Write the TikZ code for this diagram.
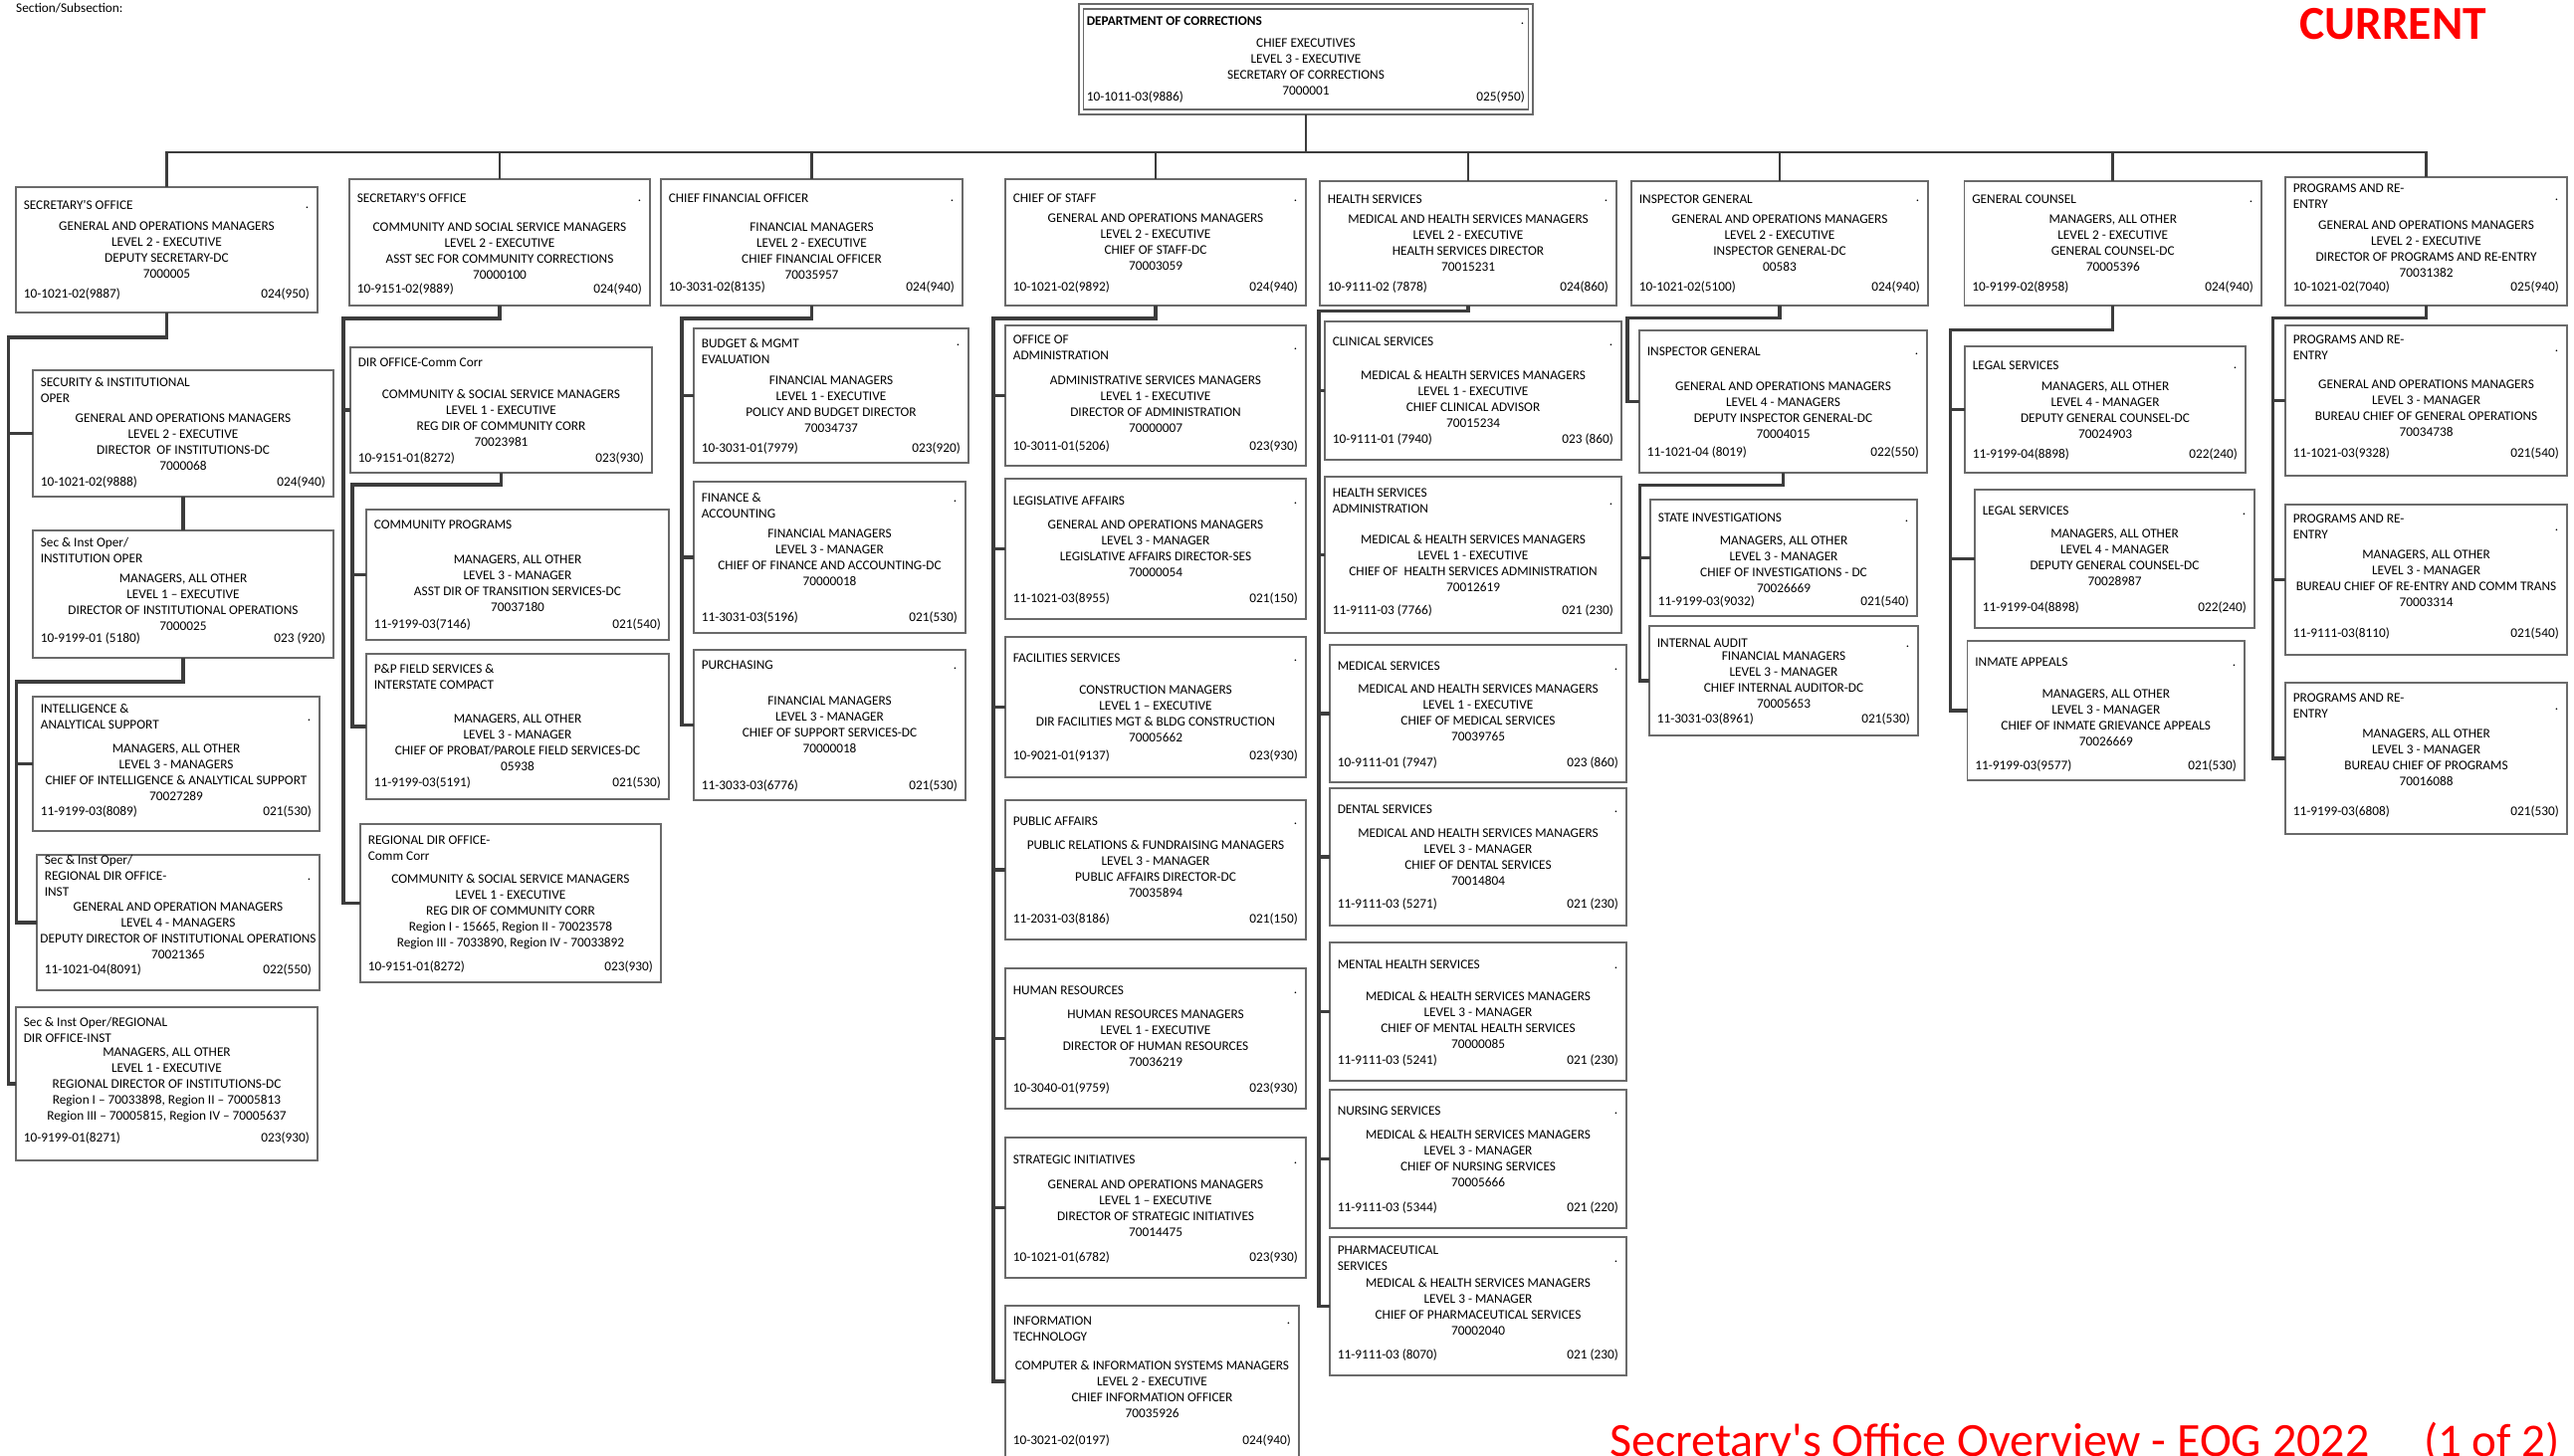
\documentclass[tikz,border=0pt]{standalone}
\usepackage{fontspec}
\setmainfont{Carlito}
\newfontfamily\cf{Carlito}
\definecolor{connc}{HTML}{3C3C3C}
\definecolor{bordc}{HTML}{6A6A6A}
\definecolor{redc}{HTML}{FF0000}
\newcommand\fs{\cf\fontsize{13.3}{16}\selectfont}
\tikzset{
  obx/.style={draw=bordc, line width=1.2pt, inner sep=0pt, outer sep=0pt},
  bordln/.style={draw=bordc, line width=1.2pt},
  ttl/.style={anchor=base west, inner sep=0pt, font=\fs},
  ctr/.style={anchor=base, inner sep=0pt, font=\fs},
  cdl/.style={anchor=base west, inner sep=0pt, font=\fs},
  grd/.style={anchor=base east, inner sep=0pt, font=\fs},
  dotn/.style={anchor=base east, inner sep=0pt, font=\fs},
  conn/.style={draw=connc, line width=3.2pt, line join=miter},
  busln/.style={draw=connc, line width=2.6pt, line join=miter},
}
\newcommand\obox[5]{%
  \def\bN{#1}\def\bL{#2}\def\bT{#3}\def\bR{#4}\def\bB{#5}%
  \node[obx, minimum width={(#4-#2)*1pt}, minimum height={(#5-#3)*1pt}] (#1) at ({(#2+#4)/2},{(#3+#5)/2}) {};}
\newcommand\otext[8]{%
  \foreach \l [count=\i] in {#2} {\node[ttl] (\bN-t\i) at ({\bL+7.6},{#1+16*(\i-1)}) {\l};}
  \foreach \l [count=\i] in {#4} {\node[ctr] (\bN-c\i) at ({(\bL+\bR)/2},{#3+16*(\i-1)}) {\l};}
  \node[cdl] (\bN-code) at ({\bL+7.6},#5) {#6};
  \node[grd] (\bN-grade) at ({\bR-8},#5) {#7};
  \if\relax\detokenize{#8}\relax\else\node[dotn] (\bN-dot) at ({\bR-8.5},#8) {.};\fi
}
\begin{document}
\begin{tikzpicture}[x=1pt,y=-1pt]
\useasboundingbox (0,0) rectangle (2586,1463);
\node[ttl] (secsub) at (16,12.7) {Section/Subsection:};
\node[anchor=base west, inner sep=0pt, text=redc, font=\cf\fontsize{47.5}{50}\selectfont\bfseries] (current) at (2310,39.3) {CURRENT};
\node[anchor=base west, inner sep=0pt, text=redc, font=\cf\fontsize{48}{50}\selectfont] (foot) at (1617,1463) {Secretary's Office Overview - EOG 2022};
\node[anchor=base east, inner sep=0pt, text=redc, font=\cf\fontsize{47}{50}\selectfont] (foot2) at (2572,1463) {(1 of 2)};

% ---------- top ----------
\obox{doc}{1084}{4}{1540}{115}
\draw[bordln] ([xshift=4.5pt,yshift=-5pt]doc.north west) rectangle ([xshift=-4.5pt,yshift=5pt]doc.south east);
\otext{26}{{\bfseries DEPARTMENT OF CORRECTIONS}}{47.7}{CHIEF EXECUTIVES,LEVEL 3 - EXECUTIVE,SECRETARY OF CORRECTIONS,7000001}{101.7}{10-1011-03(9886)}{025(950)}{25}

% ---------- level 2 ----------
\obox{so1}{16}{188}{319}{314}
\otext{211}{SECRETARY'S OFFICE}{231.7}{GENERAL AND OPERATIONS MANAGERS,LEVEL 2 - EXECUTIVE,DEPUTY SECRETARY-DC,7000005}{299.3}{10-1021-02(9887)}{024(950)}{210}
\obox{so2}{351}{180}{653}{307}
\otext{204}{SECRETARY'S OFFICE}{232.3}{COMMUNITY AND SOCIAL SERVICE MANAGERS,LEVEL 2 - EXECUTIVE,ASST SEC FOR COMMUNITY CORRECTIONS,70000100}{295}{10-9151-02(9889)}{024(940)}{203}
\obox{cfo}{664}{180}{967}{307}
\otext{204}{CHIEF FINANCIAL OFFICER}{232.3}{FINANCIAL MANAGERS,LEVEL 2 - EXECUTIVE,CHIEF FINANCIAL OFFICER,70035957}{292.3}{10-3031-02(8135)}{024(940)}{203}
\obox{cos}{1010}{180}{1312}{307}
\otext{204}{CHIEF OF STAFF}{224}{GENERAL AND OPERATIONS MANAGERS,LEVEL 2 - EXECUTIVE,CHIEF OF STAFF-DC,70003059}{292.3}{10-1021-02(9892)}{024(940)}{203}
\obox{hs}{1326}{182}{1624}{307}
\otext{205}{HEALTH SERVICES}{225}{MEDICAL AND HEALTH SERVICES MANAGERS,LEVEL 2 - EXECUTIVE,HEALTH SERVICES DIRECTOR,70015231}{292.3}{10-9111-02 (7878)}{024(860)}{203}
\obox{ig}{1639}{182}{1937}{307}
\otext{205}{INSPECTOR GENERAL}{225}{GENERAL AND OPERATIONS MANAGERS,LEVEL 2 - EXECUTIVE,INSPECTOR GENERAL-DC,00583}{292.3}{10-1021-02(5100)}{024(940)}{203}
\obox{gc}{1973.5}{182}{2272}{307}
\otext{205}{GENERAL COUNSEL}{225}{{MANAGERS, ALL OTHER},LEVEL 2 - EXECUTIVE,GENERAL COUNSEL-DC,70005396}{292.3}{10-9199-02(8958)}{024(940)}{204}
\obox{pr}{2296}{178}{2579}{307}
\otext{194}{PROGRAMS AND RE-,ENTRY}{231}{GENERAL AND OPERATIONS MANAGERS,LEVEL 2 - EXECUTIVE,DIRECTOR OF PROGRAMS AND RE-ENTRY,70031382}{292.3}{10-1021-02(7040)}{025(940)}{202}

% ---------- secretary's office (1) ----------
\obox{sio}{33}{372}{335}{499}
\otext{388.3}{SECURITY \& INSTITUTIONAL,OPER}{424}{GENERAL AND OPERATIONS MANAGERS,LEVEL 2 - EXECUTIVE,DIRECTOR\ \ OF INSTITUTIONS-DC,7000068}{488.3}{10-1021-02(9888)}{024(940)}{}
\obox{sii}{33}{533}{335}{661}
\otext{549.3}{Sec \& Inst Oper/,INSTITUTION OPER}{585}{{MANAGERS, ALL OTHER},LEVEL 1 – EXECUTIVE,DIRECTOR OF INSTITUTIONAL OPERATIONS,7000025}{645.3}{10-9199-01 (5180)}{023 (920)}{}
\obox{intel}{33}{700}{321}{835}
\otext{716}{INTELLIGENCE \&,ANALYTICAL SUPPORT}{756}{{MANAGERS, ALL OTHER},LEVEL 3 - MANAGERS,CHIEF OF INTELLIGENCE \& ANALYTICAL SUPPORT,70027289}{819}{11-9199-03(8089)}{021(530)}{724}
\obox{sird}{37}{859}{321}{995}
\otext{868.3}{Sec \& Inst Oper/,REGIONAL DIR OFFICE-,INST}{915}{GENERAL AND OPERATION MANAGERS,LEVEL 4 - MANAGERS,DEPUTY DIRECTOR OF INSTITUTIONAL OPERATIONS,70021365}{978}{11-1021-04(8091)}{022(550)}{884}
\obox{siro}{16}{1012}{319}{1166}
\otext{1031}{Sec \& Inst Oper/REGIONAL,DIR OFFICE-INST}{1061}{{MANAGERS, ALL OTHER},LEVEL 1 - EXECUTIVE,REGIONAL DIRECTOR OF INSTITUTIONS-DC,{Region I – 70033898, Region II – 70005813},{Region III – 70005815, Region IV – 70005637}}{1147}{10-9199-01(8271)}{023(930)}{}

% ---------- secretary's office (2) ----------
\obox{dir}{352}{349}{655}{475}
\otext{368.3}{DIR OFFICE-Comm Corr}{400}{COMMUNITY \& SOCIAL SERVICE MANAGERS,LEVEL 1 - EXECUTIVE,REG DIR OF COMMUNITY CORR,70023981}{464.3}{10-9151-01(8272)}{023(930)}{}
\obox{cp}{368}{512}{672}{643}
\otext{531.7}{COMMUNITY PROGRAMS}{566}{{MANAGERS, ALL OTHER},LEVEL 3 - MANAGER,ASST DIR OF TRANSITION SERVICES-DC,70037180}{631.7}{11-9199-03(7146)}{021(540)}{}
\obox{pp}{368}{657}{672}{803}
\otext{676.7}{P\&P FIELD SERVICES \&,INTERSTATE COMPACT}{726}{{MANAGERS, ALL OTHER},LEVEL 3 - MANAGER,CHIEF OF PROBAT/PAROLE FIELD SERVICES-DC,05938}{790.7}{11-9199-03(5191)}{021(530)}{}
\obox{rdcc}{362}{828}{664}{987}
\otext{848}{REGIONAL DIR OFFICE-,Comm Corr}{887.7}{COMMUNITY \& SOCIAL SERVICE MANAGERS,LEVEL 1 - EXECUTIVE,REG DIR OF COMMUNITY CORR,{Region I - 15665, Region II - 70023578},{Region III - 7033890, Region IV - 70033892}}{975}{10-9151-01(8272)}{023(930)}{}

% ---------- CFO ----------
\obox{budget}{697}{330}{973}{465}
\otext{349.3}{BUDGET \& MGMT,EVALUATION}{386}{FINANCIAL MANAGERS,LEVEL 1 - EXECUTIVE,POLICY AND BUDGET DIRECTOR,70034737}{454}{10-3031-01(7979)}{023(920)}{348}
\obox{fin}{697}{484}{970}{636}
\otext{504}{FINANCE \&,ACCOUNTING}{540}{FINANCIAL MANAGERS,LEVEL 3 - MANAGER,CHIEF OF FINANCE AND ACCOUNTING-DC,70000018}{624}{11-3031-03(5196)}{021(530)}{504}
\obox{purch}{697}{653}{970}{804}
\otext{672}{PURCHASING}{708}{FINANCIAL MANAGERS,LEVEL 3 - MANAGER,CHIEF OF SUPPORT SERVICES-DC,70000018}{793.3}{11-3033-03(6776)}{021(530)}{672}

% ---------- Chief of staff ----------
\obox{oa}{1010}{327}{1312}{468}
\otext{345.3}{OFFICE OF,ADMINISTRATION}{386}{ADMINISTRATIVE SERVICES MANAGERS,LEVEL 1 - EXECUTIVE,DIRECTOR OF ADMINISTRATION,70000007}{452}{10-3011-01(5206)}{023(930)}{352}
\obox{leg}{1010}{481}{1312}{622}
\otext{507.3}{LEGISLATIVE AFFAIRS}{531.7}{GENERAL AND OPERATIONS MANAGERS,LEVEL 3 - MANAGER,LEGISLATIVE AFFAIRS DIRECTOR-SES,70000054}{605.7}{11-1021-03(8955)}{021(150)}{506}
\obox{fac}{1010}{640}{1312}{781}
\otext{665}{FACILITIES SERVICES}{697.7}{CONSTRUCTION MANAGERS,LEVEL 1 – EXECUTIVE,DIR FACILITIES MGT \& BLDG CONSTRUCTION,70005662}{763.3}{10-9021-01(9137)}{023(930)}{664}
\obox{pa}{1010}{804}{1312}{944}
\otext{829}{PUBLIC AFFAIRS}{853.7}{PUBLIC RELATIONS \& FUNDRAISING MANAGERS,LEVEL 3 - MANAGER,PUBLIC AFFAIRS DIRECTOR-DC,70035894}{927.3}{11-2031-03(8186)}{021(150)}{828}
\obox{hr}{1010}{973}{1312}{1114}
\otext{999}{HUMAN RESOURCES}{1023.7}{HUMAN RESOURCES MANAGERS,LEVEL 1 - EXECUTIVE,DIRECTOR OF HUMAN RESOURCES,70036219}{1097.3}{10-3040-01(9759)}{023(930)}{998}
\obox{strat}{1010}{1143}{1312}{1284}
\otext{1169}{STRATEGIC INITIATIVES}{1194}{GENERAL AND OPERATIONS MANAGERS,LEVEL 1 – EXECUTIVE,DIRECTOR OF STRATEGIC INITIATIVES,70014475}{1267.3}{10-1021-01(6782)}{023(930)}{1169}
\obox{it}{1010}{1312}{1305}{1464}
\otext{1331}{INFORMATION,TECHNOLOGY}{1376.7}{COMPUTER \& INFORMATION SYSTEMS MANAGERS,LEVEL 2 - EXECUTIVE,CHIEF INFORMATION OFFICER,70035926}{1451.7}{10-3021-02(0197)}{024(940)}{1330}

% ---------- Health services ----------
\obox{clin}{1331}{323}{1629}{462}
\otext{348}{CLINICAL SERVICES}{381}{MEDICAL \& HEALTH SERVICES MANAGERS,LEVEL 1 - EXECUTIVE,CHIEF CLINICAL ADVISOR,70015234}{445}{10-9111-01 (7940)}{023 (860)}{348}
\obox{hsa}{1331}{479}{1629}{636}
\otext{499}{HEALTH SERVICES,ADMINISTRATION}{546}{MEDICAL \& HEALTH SERVICES MANAGERS,LEVEL 1 - EXECUTIVE,CHIEF OF\ \ HEALTH SERVICES ADMINISTRATION,70012619}{617.3}{11-9111-03 (7766)}{021 (230)}{507}
\obox{med}{1336}{648}{1634}{786}
\otext{673.3}{MEDICAL SERVICES}{696.7}{MEDICAL AND HEALTH SERVICES MANAGERS,LEVEL 1 - EXECUTIVE,CHIEF OF MEDICAL SERVICES,70039765}{770}{10-9111-01 (7947)}{023 (860)}{673}
\obox{den}{1336}{792}{1634}{930}
\otext{817}{DENTAL SERVICES}{841}{MEDICAL AND HEALTH SERVICES MANAGERS,LEVEL 3 - MANAGER,CHIEF OF DENTAL SERVICES,70014804}{912.7}{11-9111-03 (5271)}{021 (230)}{816}
\obox{men}{1336}{947}{1634}{1086}
\otext{973}{MENTAL HEALTH SERVICES}{1005}{MEDICAL \& HEALTH SERVICES MANAGERS,LEVEL 3 - MANAGER,CHIEF OF MENTAL HEALTH SERVICES,70000085}{1069}{11-9111-03 (5241)}{021 (230)}{973}
\obox{nur}{1336}{1095}{1634}{1234}
\otext{1120}{NURSING SERVICES}{1144}{MEDICAL \& HEALTH SERVICES MANAGERS,LEVEL 3 - MANAGER,CHIEF OF NURSING SERVICES,70005666}{1217}{11-9111-03 (5344)}{021 (220)}{1119}
\obox{pha}{1336}{1243}{1634}{1382}
\otext{1260}{PHARMACEUTICAL,SERVICES}{1293}{MEDICAL \& HEALTH SERVICES MANAGERS,LEVEL 3 - MANAGER,CHIEF OF PHARMACEUTICAL SERVICES,70002040}{1365}{11-9111-03 (8070)}{021 (230)}{1268}

% ---------- Inspector general ----------
\obox{ig2}{1647}{332}{1936}{475}
\otext{357}{INSPECTOR GENERAL}{392}{GENERAL AND OPERATIONS MANAGERS,LEVEL 4 - MANAGERS,DEPUTY INSPECTOR GENERAL-DC,70004015}{458.3}{11-1021-04 (8019)}{022(550)}{356}
\obox{state}{1658}{502}{1926}{619}
\otext{524}{STATE INVESTIGATIONS}{547.7}{{MANAGERS, ALL OTHER},LEVEL 3 - MANAGER,CHIEF OF INVESTIGATIONS - DC,70026669}{608.3}{11-9199-03(9032)}{021(540)}{524}
\obox{ia}{1657}{629}{1927}{739}
\otext{650.7}{INTERNAL AUDIT}{663.7}{FINANCIAL MANAGERS,LEVEL 3 - MANAGER,CHIEF INTERNAL AUDITOR-DC,70005653}{726}{11-3031-03(8961)}{021(530)}{650}

% ---------- General counsel ----------
\obox{legal1}{1974}{348}{2256}{475}
\otext{371}{LEGAL SERVICES}{392}{{MANAGERS, ALL OTHER},LEVEL 4 - MANAGER,DEPUTY GENERAL COUNSEL-DC,70024903}{460}{11-9199-04(8898)}{022(240)}{370}
\obox{legal2}{1984}{492}{2265}{631}
\otext{517}{LEGAL SERVICES}{540.7}{{MANAGERS, ALL OTHER},LEVEL 4 - MANAGER,DEPUTY GENERAL COUNSEL-DC,70028987}{614}{11-9199-04(8898)}{022(240)}{517}
\obox{inm}{1976.5}{644}{2255}{784}
\otext{669}{INMATE APPEALS}{701.7}{{MANAGERS, ALL OTHER},LEVEL 3 - MANAGER,CHIEF OF INMATE GRIEVANCE APPEALS,70026669}{773.3}{11-9199-03(9577)}{021(530)}{669}

% ---------- Programs and re-entry ----------
\obox{pr2}{2296}{327}{2579}{478}
\otext{345}{PROGRAMS AND RE-,ENTRY}{390}{GENERAL AND OPERATIONS MANAGERS,LEVEL 3 - MANAGER,BUREAU CHIEF OF GENERAL OPERATIONS,70034738}{459}{11-1021-03(9328)}{021(540)}{353}
\obox{pr3}{2296}{507}{2579}{658}
\otext{525}{PROGRAMS AND RE-,ENTRY}{561.7}{{MANAGERS, ALL OTHER},LEVEL 3 - MANAGER,BUREAU CHIEF OF RE-ENTRY AND COMM TRANS,70003314}{640}{11-9111-03(8110)}{021(540)}{533}
\obox{pr4}{2296}{686}{2579}{838}
\otext{705}{PROGRAMS AND RE-,ENTRY}{741.7}{{MANAGERS, ALL OTHER},LEVEL 3 - MANAGER,BUREAU CHIEF OF PROGRAMS,70016088}{819}{11-9199-03(6808)}{021(530)}{713}

% ---------- connectors ----------
\coordinate (bus) at (167,153);
\draw[busln] (so1.north) -- (so1.north |- bus) -- (pr.north |- bus) -- (pr.north);
\foreach \n in {so2,cfo,cos,hs,ig,gc} {\draw[busln] (\n.north) -- (\n.north |- bus);}
\draw[busln] (doc.south) -- (doc.south |- bus);

\coordinate (so1e) at (8.8,339);
\draw[conn] (so1.south) |- (so1e) -- (so1e |- siro.west) -- (siro.west);
\draw[conn] (so1e |- sio.west) -- (sio.west);
\draw[conn] (sio.south) -- (sii.north);
\coordinate (siie) at (16.8,685);
\draw[conn] (sii.south) |- (siie) -- (siie |- sird.west) -- (sird.west);
\draw[conn] (siie |- intel.west) -- (intel.west);

\coordinate (so2e) at (345,320);
\draw[conn] (so2.south) |- (so2e) -- (so2e |- rdcc.west) -- (rdcc.west);
\draw[conn] (so2e |- dir.west) -- (dir.west);
\coordinate (dire) at (354,487);
\draw[conn] (dir.south) |- (dire) -- (dire |- pp.west) -- (pp.west);
\draw[conn] (dire |- cp.west) -- (cp.west);

\coordinate (cfoe) at (685,320);
\draw[conn] (cfo.south) |- (cfoe) -- (cfoe |- purch.west) -- (purch.west);
\foreach \c in {budget,fin} {\draw[conn] (cfoe |- \c.west) -- (\c.west);}

\coordinate (cose) at (998,320);
\draw[conn] (cos.south) |- (cose) -- (cose |- it.west) -- (it.west);
\foreach \c in {oa,leg,fac,pa,hr,strat} {\draw[conn] (cose |- \c.west) -- (\c.west);}

\coordinate (hse) at (1325,312.7);
\draw[conn] (hs.south) |- (hse) -- (hse |- pha.west) -- (pha.west);
\foreach \c in {clin,hsa,med,den,men,nur} {\draw[conn] (hse |- \c.west) -- (\c.west);}

\coordinate (ige) at (1635,319.3);
\draw[conn] (ig.south) |- (ige) -- (ige |- ig2.west) -- (ig2.west);
\coordinate (ig2e) at (1647.4,487.7);
\draw[conn] (ig2.south) |- (ig2e) -- (ig2e |- ia.west) -- (ia.west);
\draw[conn] (ig2e |- state.west) -- (state.west);

\coordinate (gce) at (1959.5,331.7);
\draw[conn] (gc.south) |- (gce) -- (gce |- inm.west) -- (inm.west);
\foreach \c in {legal1,legal2} {\draw[conn] (gce |- \c.west) -- (\c.west);}

\coordinate (pre) at (2283.6,319.3);
\draw[conn] (pr.south) |- (pre) -- (pre |- pr4.west) -- (pr4.west);
\foreach \c in {pr2,pr3} {\draw[conn] (pre |- \c.west) -- (\c.west);}
\end{tikzpicture}
\end{document}
